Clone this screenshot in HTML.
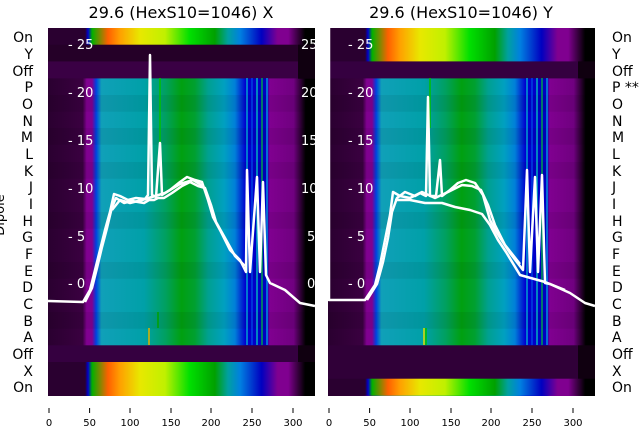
<!DOCTYPE html>
<html><head><meta charset="utf-8"><style>
html,body{margin:0;padding:0;background:#fff;}
svg{display:block;font-family:"DejaVu Sans","Liberation Sans",sans-serif;}
</style></head><body>
<svg width="640" height="440" viewBox="0 0 640 440" xmlns="http://www.w3.org/2000/svg">
<defs>
<linearGradient id="spec" gradientUnits="userSpaceOnUse" x1="48" y1="0" x2="315" y2="0">
<stop offset="0" stop-color="#2a0030"/><stop offset="0.139" stop-color="#2a0030"/>
<stop offset="0.15" stop-color="#0000d0"/><stop offset="0.165" stop-color="#00b000"/>
<stop offset="0.225" stop-color="#ff6000"/><stop offset="0.27" stop-color="#ffa000"/>
<stop offset="0.345" stop-color="#e8e800"/><stop offset="0.438" stop-color="#c0f000"/>
<stop offset="0.53" stop-color="#00e000"/><stop offset="0.625" stop-color="#00a000"/>
<stop offset="0.674" stop-color="#00a0a0"/><stop offset="0.72" stop-color="#0080e0"/>
<stop offset="0.8" stop-color="#0000c0"/><stop offset="0.86" stop-color="#800090"/>
<stop offset="0.9" stop-color="#800090"/><stop offset="0.963" stop-color="#000"/>
<stop offset="1" stop-color="#000"/>
</linearGradient>
<linearGradient id="dip" gradientUnits="userSpaceOnUse" x1="48" y1="0" x2="315" y2="0">
<stop offset="0" stop-color="#2a0030"/><stop offset="0.13" stop-color="#3a0040"/>
<stop offset="0.145" stop-color="#800090"/><stop offset="0.165" stop-color="#800090"/>
<stop offset="0.18" stop-color="#0040e0"/><stop offset="0.2" stop-color="#10a0b8"/>
<stop offset="0.36" stop-color="#00a0a8"/><stop offset="0.44" stop-color="#00a060"/>
<stop offset="0.5" stop-color="#00a010"/><stop offset="0.55" stop-color="#00a030"/>
<stop offset="0.6" stop-color="#00a090"/><stop offset="0.66" stop-color="#00a0c0"/>
<stop offset="0.7" stop-color="#0080d8"/><stop offset="0.74" stop-color="#0000d0"/>
<stop offset="0.82" stop-color="#0000c0"/><stop offset="0.83" stop-color="#800090"/>
<stop offset="0.92" stop-color="#700080"/><stop offset="0.965" stop-color="#000"/>
<stop offset="1" stop-color="#000"/>
</linearGradient>
</defs>

<!-- LEFT PANEL -->
<g>
<rect x="48" y="28" width="267" height="368" fill="url(#dip)"/>
<rect x="48" y="28" width="267" height="17" fill="url(#spec)"/>
<rect x="48" y="44.7" width="267" height="17" fill="#250028"/>
<rect x="48" y="61.4" width="250" height="17" fill="#3a0044"/>
<rect x="298" y="44.7" width="17" height="34" fill="#100010"/>
<rect x="48" y="345.3" width="250" height="17" fill="#350040"/>
<rect x="298" y="345.3" width="17" height="17" fill="#100010"/>
<rect x="48" y="362" width="267" height="34" fill="url(#spec)"/>
<g fill="#000" opacity="0.06">
<rect x="48" y="95" width="267" height="16.7"/><rect x="48" y="128" width="267" height="16.7"/>
<rect x="48" y="162" width="267" height="16.7"/><rect x="48" y="212" width="267" height="16.7"/>
<rect x="48" y="262" width="267" height="16.7"/><rect x="48" y="312" width="267" height="16.7"/>
</g>
<g stroke-width="1.5">
<line x1="247" y1="78" x2="247" y2="345" stroke="#00a0d0"/>
<line x1="252" y1="78" x2="252" y2="345" stroke="#0040e0"/>
<line x1="257" y1="78" x2="257" y2="345" stroke="#00b0c0"/>
<line x1="262" y1="78" x2="262" y2="345" stroke="#00a050"/>
<line x1="267" y1="78" x2="267" y2="345" stroke="#0090e0"/>
<line x1="160" y1="78" x2="160" y2="145" stroke="#00c000"/>
<line x1="158" y1="312" x2="158" y2="328" stroke="#00a000"/>
<line x1="149" y1="328" x2="149" y2="345" stroke="#e0b000"/>
</g>
<g fill="none" stroke="#fff" stroke-width="2.5" stroke-linejoin="round">
<path d="M48,301 L83,302 L90,290 L95,270 L100,250 L105,230 L110,212 L114,194 L120,196 L128,200 L136,198 L145,199 L148,195 L150,55 L152,195 L156,197 L160,143 L162,195 L170,190 L180,182 L187,177 L195,180 L202,182 L208,200 L213,217 L220,230 L230,250 L240,260 L246,272 L247,170 L250,272 L257,177 L260,272 L263,182 L266,275 L270,283 L285,290 L300,303 L315,306"/>
<path d="M85,302 L92,288 L97,268 L102,247 L107,228 L112,207 L116,198 L124,203 L132,201 L144,203 L149,200 L154,200 L158,198 L164,198 L172,193 L182,186 L190,182 L198,186 L205,188 L211,205 L216,222 L225,238 L235,256 L245,266"/>
<path d="M112,210 L120,200 L130,203 L142,200 L165,193 L180,184 L193,180 L203,186"/>
</g>
<g fill="#fff" font-size="13">
<text x="68" y="49">- 25</text><text x="68" y="97">- 20</text><text x="68" y="145">- 15</text>
<text x="68" y="193">- 10</text><text x="68" y="241">- 5</text><text x="68" y="288">- 0</text>
</g>
<g fill="#fff" font-size="13">
<text x="301" y="49">25</text><text x="301" y="97">20</text><text x="301" y="145">15</text>
<text x="301" y="193">10</text><text x="307" y="241">5</text><text x="307" y="288">0</text>
</g>
</g>
<rect x="315" y="20" width="13" height="400" fill="#fff"/>

<!-- RIGHT PANEL -->
<g transform="translate(280,0)">
<rect x="48" y="28" width="267" height="368" fill="url(#dip)"/>
<rect x="48" y="28" width="267" height="34" fill="url(#spec)"/>
<rect x="48" y="61.4" width="250" height="17" fill="#350040"/>
<rect x="298" y="61.4" width="17" height="17" fill="#100010"/>
<rect x="48" y="345.3" width="250" height="34" fill="#300038"/>
<rect x="298" y="345.3" width="17" height="34" fill="#100010"/>
<rect x="48" y="378.7" width="267" height="17" fill="url(#spec)"/>
<g fill="#000" opacity="0.06">
<rect x="48" y="95" width="267" height="16.7"/><rect x="48" y="128" width="267" height="16.7"/>
<rect x="48" y="162" width="267" height="16.7"/><rect x="48" y="212" width="267" height="16.7"/>
<rect x="48" y="262" width="267" height="16.7"/><rect x="48" y="312" width="267" height="16.7"/>
</g>
<g stroke-width="1.5">
<line x1="247" y1="78" x2="247" y2="345" stroke="#00a0d0"/>
<line x1="252" y1="78" x2="252" y2="345" stroke="#0040e0"/>
<line x1="257" y1="78" x2="257" y2="345" stroke="#00b0c0"/>
<line x1="262" y1="78" x2="262" y2="345" stroke="#00a050"/>
<line x1="267" y1="78" x2="267" y2="345" stroke="#0090e0"/>
<line x1="150" y1="78" x2="150" y2="128" stroke="#00c000"/>
<line x1="144" y1="328" x2="144" y2="345" stroke="#e0e000"/>
<line x1="146" y1="328" x2="146" y2="345" stroke="#00c000"/>
</g>
</g>
<g fill="none" stroke="#fff" stroke-width="2.5" stroke-linejoin="round">
<path d="M329,28 L329,300 L365,300 L375,285 L380,265 L385,240 L390,215 L393,192 L400,196 L410,198 L420,193 L426,196 L428,97 L430,196 L436,196 L440,160 L442,196 L450,190 L458,183 L466,180 L475,183 L483,195 L490,220 L497,233 L510,253 L523,270 L527,170 L530,272 L535,177 L538,272 L542,175 L545,283 L550,284 L570,293 L585,303 L595,306"/>
<path d="M367,300 L377,284 L383,262 L388,238 L392,212 L397,198 L405,192 L415,196 L422,192 L435,198 L448,192 L462,185 L472,186 L481,190 L488,205 L495,225 L505,245 L520,264"/>
<path d="M395,200 L410,200 L425,203 L442,203 L455,207 L470,210 L482,214 L490,225 L498,240 L506,252 L520,275 L545,282 L565,290"/>
</g>
<g fill="#fff" font-size="13">
<text x="348" y="49">- 25</text><text x="348" y="97">- 20</text><text x="348" y="145">- 15</text>
<text x="348" y="193">- 10</text><text x="348" y="241">- 5</text><text x="348" y="288">- 0</text>
</g>

<!-- titles -->
<g font-size="16" fill="#000" text-anchor="middle">
<text x="181" y="18">29.6 (HexS10=1046) X</text>
<text x="461" y="18">29.6 (HexS10=1046) Y</text>
</g>

<!-- row labels -->
<g font-size="14" fill="#000" text-anchor="end">
<text x="33" y="42">On</text><text x="33" y="59">Y</text><text x="33" y="76">Off</text>
<text x="33" y="92">P</text><text x="33" y="109">O</text><text x="33" y="126">N</text>
<text x="33" y="142">M</text><text x="33" y="159">L</text><text x="33" y="176">K</text>
<text x="33" y="192">J</text><text x="33" y="209">I</text><text x="33" y="226">H</text>
<text x="33" y="242">G</text><text x="33" y="259">F</text><text x="33" y="276">E</text>
<text x="33" y="292">D</text><text x="33" y="309">C</text><text x="33" y="326">B</text>
<text x="33" y="342">A</text><text x="33" y="359">Off</text><text x="33" y="376">X</text>
<text x="33" y="392">On</text>
</g>
<g font-size="14" fill="#000">
<text x="612" y="42">On</text><text x="612" y="59">Y</text><text x="612" y="76">Off</text>
<text x="612" y="92">P **</text><text x="612" y="109">O</text><text x="612" y="126">N</text>
<text x="612" y="142">M</text><text x="612" y="159">L</text><text x="612" y="176">K</text>
<text x="612" y="192">J</text><text x="612" y="209">I</text><text x="612" y="226">H</text>
<text x="612" y="242">G</text><text x="612" y="259">F</text><text x="612" y="276">E</text>
<text x="612" y="292">D</text><text x="612" y="309">C</text><text x="612" y="326">B</text>
<text x="612" y="342">A</text><text x="612" y="359">Off</text><text x="612" y="376">X</text>
<text x="612" y="392">On</text>
</g>
<text transform="translate(4,215) rotate(-90)" font-size="13" text-anchor="middle" fill="#000">Dipole</text>

<!-- x ticks -->
<g stroke="#000" stroke-width="1">
<line x1="49" y1="408" x2="49" y2="413"/><line x1="89.6" y1="408" x2="89.6" y2="413"/>
<line x1="130" y1="408" x2="130" y2="413"/><line x1="171" y1="408" x2="171" y2="413"/>
<line x1="211" y1="408" x2="211" y2="413"/><line x1="252" y1="408" x2="252" y2="413"/>
<line x1="293" y1="408" x2="293" y2="413"/>
<line x1="329" y1="408" x2="329" y2="413"/><line x1="369.6" y1="408" x2="369.6" y2="413"/>
<line x1="410" y1="408" x2="410" y2="413"/><line x1="451" y1="408" x2="451" y2="413"/>
<line x1="491" y1="408" x2="491" y2="413"/><line x1="532" y1="408" x2="532" y2="413"/>
<line x1="573" y1="408" x2="573" y2="413"/>
</g>
<g font-size="10" fill="#000" text-anchor="middle">
<text x="49" y="426">0</text><text x="89.6" y="426">50</text><text x="130" y="426">100</text>
<text x="171" y="426">150</text><text x="211" y="426">200</text><text x="252" y="426">250</text>
<text x="293" y="426">300</text>
<text x="329" y="426">0</text><text x="369.6" y="426">50</text><text x="410" y="426">100</text>
<text x="451" y="426">150</text><text x="491" y="426">200</text><text x="532" y="426">250</text>
<text x="573" y="426">300</text>
</g>
</svg>
</body></html>
